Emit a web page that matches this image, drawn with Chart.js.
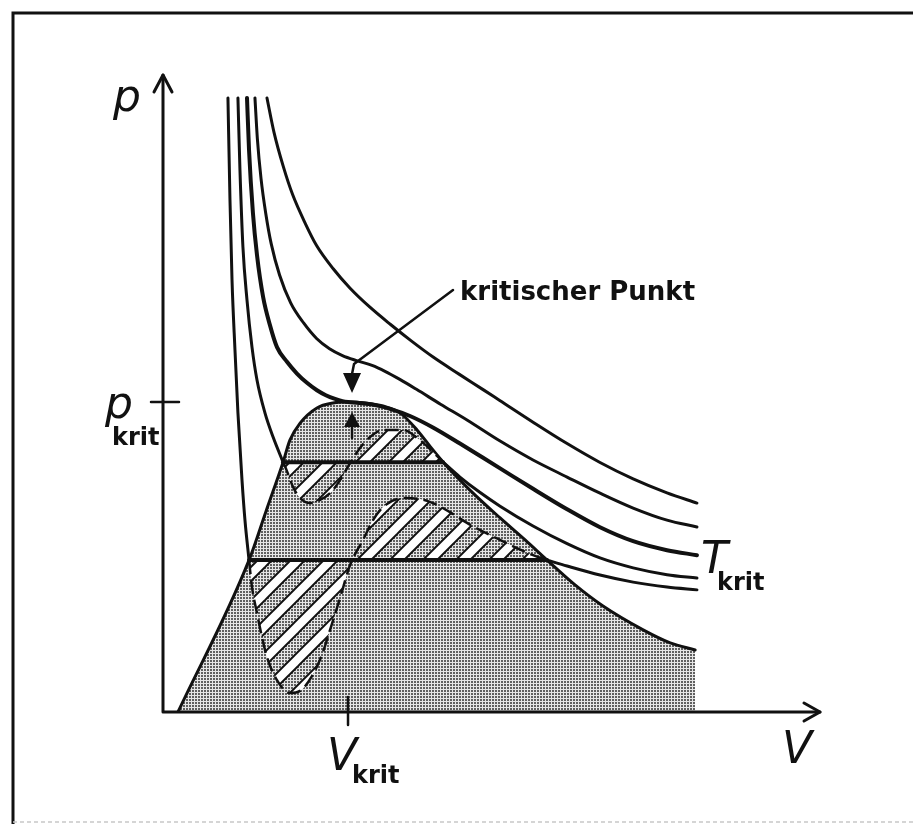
<!DOCTYPE html>
<html>
<head>
<meta charset="utf-8">
<script src="https://cdn.jsdelivr.net/npm/chart.js@4.4.1/dist/chart.umd.min.js"></script>
<style>
  html, body { margin: 0; padding: 0; background: #fff; }
  #wrap { width: 913px; height: 824px; }
</style>
</head>
<body>
<div id="wrap"><canvas id="pv" width="913" height="824"></canvas></div>
<script>

// axis ends (arrow tips)
const vMax = 3.551;
const pMax = 2.055;

// isotherm 1 (lowest) - liquid branch, Maxwell line, gas branch, van der Waals loop
const aLiqV = [0.351, 0.362, 0.373, 0.389, 0.405, 0.427, 0.443, 0.465];
const aLiqP = [1.981, 1.652, 1.394, 1.168, 0.965, 0.748, 0.619, 0.49];
const aPlateau = 0.49;
const aPlateauV = [0.465, 2.076];
const aGasV = [2.076, 2.184, 2.362, 2.541, 2.724, 2.886];
const aGasP = [0.49, 0.471, 0.442, 0.419, 0.403, 0.394];
const aLoopV = [0.465, 0.481, 0.508, 0.535, 0.562, 0.616, 0.686, 0.741, 0.805, 0.859, 0.903, 0.957,
                1.011, 1.081, 1.135, 1.189, 1.297, 1.389, 1.459, 1.551, 1.643, 1.822, 2.0, 2.076];
const aLoopP = [0.49, 0.403, 0.319, 0.242, 0.177, 0.103, 0.061, 0.068, 0.116, 0.184, 0.265, 0.368,
                0.474, 0.555, 0.619, 0.661, 0.69, 0.687, 0.674, 0.645, 0.61, 0.555, 0.506, 0.49];

// isotherm 2
const bLiqV = [0.405, 0.416, 0.432, 0.454, 0.481, 0.508, 0.551, 0.595, 0.649];
const bLiqP = [1.981, 1.748, 1.5, 1.329, 1.177, 1.071, 0.965, 0.887, 0.806];
const bPlateau = 0.806;
const bPlateauV = [0.649, 1.514];
const bGasV = [1.514, 1.605, 1.714, 1.822, 2.0, 2.184, 2.362, 2.541, 2.724, 2.886];
const bGasP = [0.806, 0.758, 0.708, 0.664, 0.6, 0.543, 0.497, 0.465, 0.443, 0.432];
const bLoopV = [0.649, 0.67, 0.703, 0.741, 0.795, 0.849, 0.903, 0.957, 1.011, 1.065, 1.119, 1.189,
                1.297, 1.389, 1.459, 1.514];
const bLoopP = [0.806, 0.777, 0.726, 0.69, 0.674, 0.684, 0.706, 0.748, 0.803, 0.852, 0.887, 0.91,
                0.91, 0.877, 0.839, 0.806];

// critical isotherm T_krit
const cV = [0.454, 0.465, 0.486, 0.508, 0.541, 0.578, 0.616, 0.67, 0.724, 0.778, 0.832, 0.88, 0.93,
            0.97, 1.0, 1.06, 1.146, 1.227, 1.335, 1.459, 1.605, 1.73, 1.822, 2.0, 2.184, 2.362, 2.541,
            2.724, 2.886];
const cP = [1.981, 1.813, 1.61, 1.474, 1.339, 1.248, 1.177, 1.13, 1.092, 1.062, 1.038, 1.022, 1.01,
            1.003, 1.0, 0.997, 0.99, 0.978, 0.955, 0.918, 0.866, 0.82, 0.786, 0.72, 0.654, 0.596, 0.551,
            0.522, 0.506];

// isotherms above T_krit
const dV = [0.497, 0.51, 0.53, 0.555, 0.585, 0.63, 0.69, 0.76, 0.83, 0.9, 0.97, 1.05, 1.13, 1.2,
            1.28, 1.37, 1.5, 1.643, 1.822, 2.0, 2.184, 2.362, 2.541, 2.724, 2.886];
const dP = [1.981, 1.85, 1.72, 1.61, 1.51, 1.41, 1.32, 1.255, 1.205, 1.172, 1.15, 1.133, 1.118, 1.099,
            1.073, 1.041, 0.993, 0.942, 0.874, 0.813, 0.758, 0.706, 0.658, 0.619, 0.597];
const eV = [0.562, 0.6, 0.65, 0.7, 0.77, 0.83, 0.92, 1.01, 1.12, 1.23, 1.34, 1.46, 1.6, 1.73, 1.82,
            2.0, 2.184, 2.362, 2.541, 2.724, 2.886];
const eP = [1.981, 1.87, 1.76, 1.67, 1.575, 1.505, 1.43, 1.368, 1.305, 1.25, 1.198, 1.145, 1.09, 1.04,
            1.005, 0.935, 0.866, 0.805, 0.752, 0.707, 0.674];

// border of the two-phase region (shaded)
const domeV = [0.081, 0.465, 0.557, 0.649, 0.686, 0.741, 0.832, 0.919, 1.0, 1.092, 1.189, 1.281, 1.373,
               1.459, 1.514, 1.659, 1.822, 1.957, 2.076, 2.227, 2.378, 2.595, 2.741, 2.876];
const domeP = [0, 0.49, 0.648, 0.806, 0.877, 0.932, 0.981, 0.997, 1.0, 0.997, 0.987, 0.965, 0.91,
               0.845, 0.806, 0.716, 0.626, 0.555, 0.49, 0.41, 0.342, 0.265, 0.223, 0.2];

const critV = 1.0;
const critP = 1.0;

const labelP = 'p';
const labelV = 'V';
const labelT = 'T';
const labelSub = 'krit';
const labelCrit = 'kritischer Punkt';

const ink = '#111';

// halftone grey of the scan
function dotTile() {
  const c = document.createElement('canvas');
  c.width = 3; c.height = 3;
  const g = c.getContext('2d');
  g.fillStyle = '#e6e6e6';
  g.fillRect(0, 0, 3, 3);
  g.fillStyle = '#606060';
  g.fillRect(0, 0, 2, 2);
  return c;
}

// grey with white, black-edged diagonal bars
function hatchTile() {
  const s = 33;
  const c = document.createElement('canvas');
  c.width = s; c.height = s;
  const g = c.getContext('2d');
  g.fillStyle = g.createPattern(dotTile(), 'repeat');
  g.fillRect(0, 0, s, s);
  for (const [w, col] of [[12, ink], [8, '#fff']]) {
    g.strokeStyle = col;
    g.lineWidth = w;
    for (const k of [0, 1, 2]) {
      g.beginPath();
      g.moveTo(-s, k * s + s);
      g.lineTo(2 * s, k * s - 2 * s);
      g.stroke();
    }
  }
  return c;
}

const scratch = document.createElement('canvas').getContext('2d');
const dots = scratch.createPattern(dotTile(), 'repeat');
const hatch = scratch.createPattern(hatchTile(), 'repeat');

const pts = (vs, ps) => vs.map((v, i) => ({ x: v, y: ps[i] }));

function curve(data, extra) {
  return Object.assign({
    data: data,
    borderColor: ink,
    borderWidth: 3,
    pointRadius: 0,
    fill: false,
    cubicInterpolationMode: 'monotone',
    borderCapStyle: 'round',
    borderJoinStyle: 'round',
    order: 1
  }, extra);
}

const loopStyle = { borderDash: [14, 6], borderWidth: 2.5, borderCapStyle: 'butt', backgroundColor: hatch, order: 5 };

const datasets = [
  curve(pts(domeV, domeP), { fill: 'origin', backgroundColor: dots, order: 10 }),
  curve(pts(aLoopV, aLoopP), Object.assign({ fill: { value: aPlateau } }, loopStyle)),
  curve(pts(bLoopV, bLoopP), Object.assign({ fill: { value: bPlateau } }, loopStyle)),
  curve(pts(aLiqV, aLiqP)),
  curve(pts(aPlateauV, [aPlateau, aPlateau]), { borderWidth: 4 }),
  curve(pts(aGasV, aGasP)),
  curve(pts(bLiqV, bLiqP)),
  curve(pts(bPlateauV, [bPlateau, bPlateau]), { borderWidth: 4 }),
  curve(pts(bGasV, bGasP)),
  curve(pts(cV, cP), { borderWidth: 4 }),
  curve(pts(dV, dP)),
  curve(pts(eV, eP))
];

function text(ctx, s, x, y, font) {
  ctx.font = font;
  ctx.fillText(s, x, y);
}

// frame, axes with arrows, ticks and labels
const sketch = {
  id: 'sketch',
  beforeDraw(chart) {
    const ctx = chart.ctx;
    ctx.save();
    ctx.fillStyle = '#fff';
    ctx.fillRect(0, 0, chart.width, chart.height);
    ctx.strokeStyle = ink;
    ctx.lineWidth = 3;
    ctx.beginPath();
    ctx.moveTo(13, chart.height);
    ctx.lineTo(13, 13);
    ctx.lineTo(chart.width, 13);
    ctx.stroke();
    ctx.strokeStyle = '#c8c8c8';
    ctx.lineWidth = 1.5;
    ctx.setLineDash([4, 3]);
    ctx.beginPath();
    ctx.moveTo(13, chart.height - 2);
    ctx.lineTo(chart.width, chart.height - 2);
    ctx.stroke();
    ctx.restore();
  },
  afterDatasetsDraw(chart) {
    const ctx = chart.ctx;
    const x = chart.scales.x, y = chart.scales.y;
    const x0 = x.getPixelForValue(0), y0 = y.getPixelForValue(0);
    const xe = x.getPixelForValue(vMax), ye = y.getPixelForValue(pMax);
    const vk = x.getPixelForValue(critV), pk = y.getPixelForValue(critP);
    ctx.save();
    ctx.strokeStyle = ink;
    ctx.fillStyle = ink;
    ctx.lineCap = 'round';
    ctx.lineJoin = 'round';

    // axes
    ctx.lineWidth = 3;
    ctx.beginPath();
    ctx.moveTo(x0, ye);
    ctx.lineTo(x0, y0);
    ctx.lineTo(xe, y0);
    ctx.stroke();
    ctx.beginPath();
    ctx.moveTo(x0 - 9, ye + 17);
    ctx.lineTo(x0, ye);
    ctx.lineTo(x0 + 9, ye + 17);
    ctx.moveTo(xe - 16, y0 - 9);
    ctx.lineTo(xe, y0);
    ctx.lineTo(xe - 16, y0 + 9);
    ctx.stroke();

    // ticks at p_krit and V_krit
    ctx.lineWidth = 2.5;
    ctx.beginPath();
    ctx.moveTo(x0 - 12, pk);
    ctx.lineTo(x0 + 16, pk);
    ctx.moveTo(vk, y0 - 15);
    ctx.lineTo(vk, y0 + 13);
    ctx.stroke();

    // critical point arrows
    ctx.lineWidth = 2.5;
    ctx.beginPath();
    ctx.moveTo(vk + 105, pk - 112);
    ctx.lineTo(vk + 6, pk - 38);
    ctx.lineTo(vk + 4, pk - 28);
    ctx.moveTo(vk + 4, pk + 22);
    ctx.lineTo(vk + 4, pk + 36);
    ctx.stroke();
    ctx.beginPath();
    ctx.moveTo(vk - 5, pk - 29);
    ctx.lineTo(vk + 13, pk - 29);
    ctx.lineTo(vk + 4, pk - 9);
    ctx.closePath();
    ctx.moveTo(vk - 4, pk + 25);
    ctx.lineTo(vk + 12, pk + 25);
    ctx.lineTo(vk + 4, pk + 10);
    ctx.closePath();
    ctx.fill();

    // labels
    ctx.textBaseline = 'alphabetic';
    ctx.textAlign = 'left';
    const big = 'italic 44px "DejaVu Sans"';
    const sub = 'bold 24px "DejaVu Sans"';
    text(ctx, labelP, x0 - 50, ye + 36, big);
    text(ctx, labelP, x0 - 58, pk + 16, big);
    text(ctx, labelSub, x0 - 51, pk + 43, sub);
    text(ctx, labelV, vk - 21, y0 + 58, big);
    text(ctx, labelSub, vk + 4, y0 + 71, sub);
    text(ctx, labelV, xe - 38, y0 + 51, big);
    const tx = x.getPixelForValue(cV[cV.length - 1]);
    const ty = y.getPixelForValue(cP[cP.length - 1]);
    text(ctx, labelT, tx + 4, ty + 18, big);
    text(ctx, labelSub, tx + 20, ty + 35, sub);
    text(ctx, labelCrit, vk + 112, pk - 102, 'bold 26px "DejaVu Sans"');
    ctx.restore();
  }
};

new Chart(document.getElementById('pv').getContext('2d'), {
  type: 'line',
  data: { datasets: datasets },
  options: {
    responsive: false,
    animation: false,
    layout: { padding: { left: 163, right: 93, top: 75, bottom: 112 } },
    scales: {
      x: { type: 'linear', min: 0, max: vMax, display: false },
      y: { type: 'linear', min: 0, max: pMax, display: false }
    },
    plugins: {
      legend: { display: false },
      tooltip: { enabled: false }
    }
  },
  plugins: [sketch]
});
</script>
</body>
</html>
